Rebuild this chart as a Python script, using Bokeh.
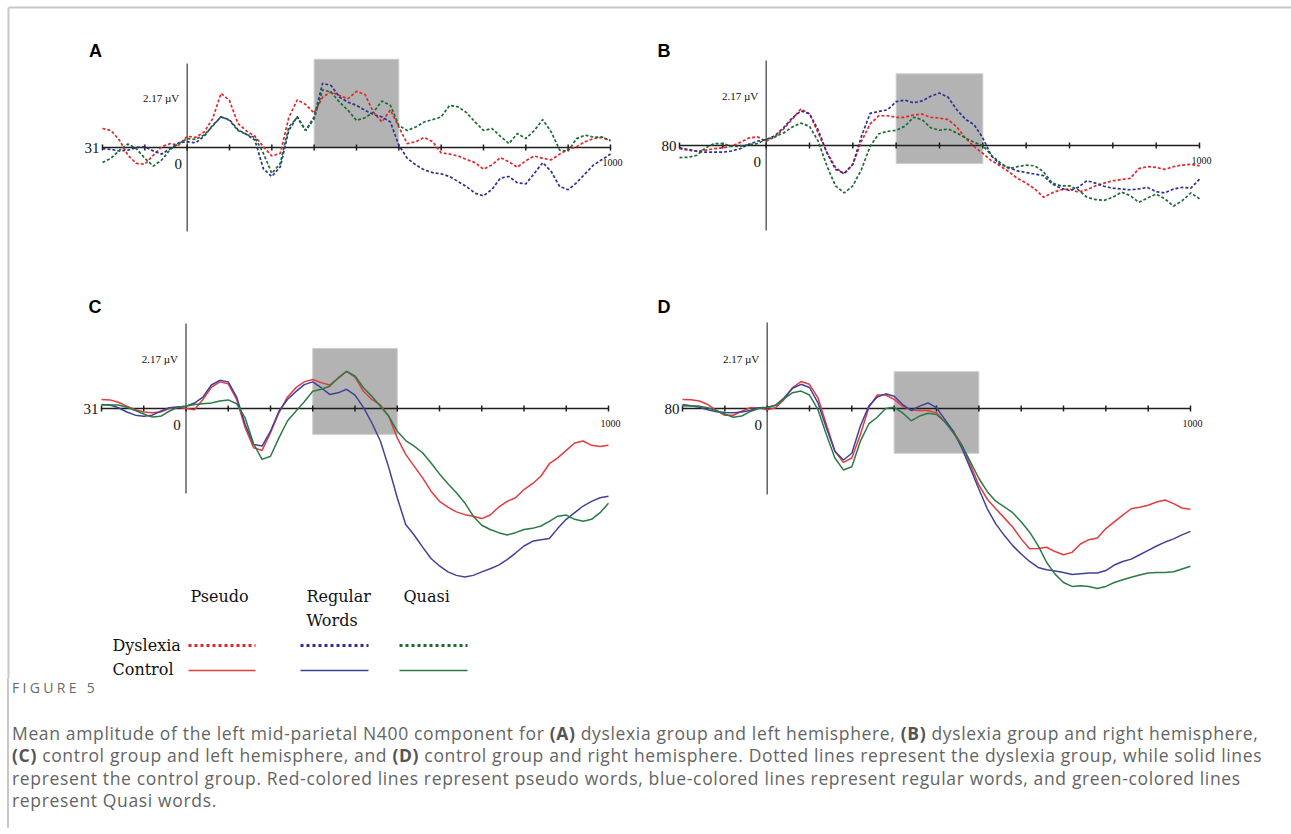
import numpy as np
from bokeh.plotting import figure
from bokeh.models import Range1d, Div
from bokeh.layouts import column
from bokeh.embed import file_html
from bokeh.resources import INLINE
from bokeh.core.properties import value

# ---------------- data ----------------
TIME_MS = list(range(-200, 1001, 20))
TICKS_MS = list(range(-200, 1001, 100))
WINDOW_MS = [300, 500]
AXIS_UV = 2.17
SCALE_LABEL = "2.17 µV"

PANELS = ["A", "B", "C", "D"]
BASE_LABELS = ["31", "80", "31", "80"]
WINDOW_BOTTOM_UV = [0.0, -0.46, -0.66, -1.13]
WINDOW_TOP_UV = [2.28, 1.83, 1.53, 0.93]

CONDITIONS = ["Pseudo", "Regular Words", "Quasi"]
GROUPS = ["Dyslexia", "Control"]

# Panel A: dyslexia, left hemisphere (µV)
A_pseudo = [0.49, 0.44, 0.19, -0.20, -0.41, -0.43, -0.20, 0.02, 0.10, 0.06,
            0.29, 0.26, 0.40, 0.74, 1.40, 1.21, 0.62, 0.43, 0.29, 0.02,
            -0.22, -0.15, 0.77, 1.23, 1.11, 0.89, 1.30, 1.44, 1.34, 1.26,
            1.45, 1.37, 0.91, 0.66, 0.97, 0.53, 0.10, 0.15, 0.26, 0.15,
            -0.14, -0.17, -0.22, -0.31, -0.39, -0.56, -0.45, -0.26, -0.37, -0.51,
            -0.34, -0.22, -0.28, -0.32, -0.17, -0.05, 0.02, 0.15, 0.23, 0.26, 0.19]
A_regular = [-0.03, -0.05, -0.09, -0.07, 0.00, 0.02, -0.09, -0.17, -0.03, 0.12,
             0.15, 0.12, 0.29, 0.57, 0.79, 0.72, 0.46, 0.34, 0.19, -0.55,
             -0.75, -0.50, 0.44, 0.80, 0.44, 0.79, 1.66, 1.60, 1.30, 1.17,
             1.09, 0.96, 0.85, 0.79, 0.66, 0.06, -0.28, -0.45, -0.58, -0.65,
             -0.68, -0.75, -0.88, -1.01, -1.18, -1.25, -1.08, -0.79, -0.75, -0.91,
             -0.94, -0.67, -0.39, -0.62, -1.01, -1.09, -0.91, -0.68, -0.45, -0.31, -0.17]
A_quasi = [-0.39, -0.28, -0.07, 0.09, -0.03, -0.28, -0.48, -0.32, -0.05, 0.10,
           0.23, 0.21, 0.32, 0.55, 0.80, 0.70, 0.44, 0.34, 0.26, -0.15,
           -0.67, -0.41, 0.53, 0.77, 0.44, 0.74, 1.49, 1.43, 1.17, 0.96,
           0.70, 0.77, 0.91, 1.20, 1.09, 0.57, 0.44, 0.53, 0.66, 0.72,
           0.79, 1.09, 1.05, 0.90, 0.66, 0.44, 0.49, 0.29, 0.10, 0.36,
           0.23, 0.44, 0.72, 0.40, -0.07, -0.09, 0.23, 0.32, 0.27, 0.27, 0.17]

# Panel B: dyslexia, right hemisphere (µV)
B_pseudo = [-0.08, -0.12, -0.14, -0.12, -0.08, -0.06, -0.02, 0.08, 0.19, 0.22,
            0.11, 0.22, 0.42, 0.67, 0.93, 0.81, 0.32, -0.17, -0.56, -0.73,
            -0.48, 0.11, 0.55, 0.76, 0.76, 0.72, 0.72, 0.78, 0.80, 0.72,
            0.70, 0.66, 0.47, 0.19, -0.03, -0.20, -0.39, -0.52, -0.67, -0.84,
            -0.96, -1.11, -1.32, -1.21, -1.13, -1.11, -1.19, -1.13, -1.03, -0.96,
            -0.90, -0.87, -0.84, -0.59, -0.54, -0.56, -0.61, -0.54, -0.50, -0.48, -0.52]
B_regular = [-0.06, -0.10, -0.15, -0.17, -0.17, -0.17, -0.14, -0.08, 0.03, 0.11,
             0.15, 0.25, 0.45, 0.70, 0.88, 0.81, 0.40, -0.18, -0.61, -0.71,
             -0.48, 0.24, 0.82, 0.87, 0.91, 1.12, 1.16, 1.09, 1.14, 1.26,
             1.34, 1.23, 0.91, 0.67, 0.53, 0.19, -0.27, -0.48, -0.56, -0.65,
             -0.69, -0.73, -0.77, -0.98, -1.09, -1.15, -1.07, -0.90, -0.96, -1.04,
             -1.09, -1.11, -1.13, -1.11, -1.07, -1.18, -1.21, -1.11, -1.07, -1.09, -0.86]
B_quasi = [-0.31, -0.30, -0.25, -0.06, 0.05, 0.05, -0.02, -0.02, 0.02, 0.05,
           0.15, 0.22, 0.32, 0.47, 0.57, 0.49, 0.11, -0.52, -1.03, -1.21,
           -1.03, -0.61, -0.02, 0.30, 0.36, 0.39, 0.49, 0.72, 0.66, 0.45,
           0.39, 0.42, 0.32, 0.19, 0.08, 0.00, -0.25, -0.44, -0.59, -0.54,
           -0.50, -0.52, -0.67, -0.96, -1.03, -1.03, -1.13, -1.32, -1.38, -1.40,
           -1.32, -1.19, -1.28, -1.45, -1.34, -1.24, -1.36, -1.55, -1.41, -1.21, -1.36]

# Panel C: control, left hemisphere (µV)
C_pseudo = [0.23, 0.22, 0.16, 0.06, -0.03, -0.09, -0.11, -0.09, 0.00, 0.03,
            0.00, -0.03, 0.23, 0.54, 0.68, 0.63, 0.23, -0.49, -1.00, -1.07,
            -0.62, -0.11, 0.29, 0.53, 0.68, 0.74, 0.66, 0.60, 0.77, 0.95,
            0.80, 0.44, 0.23, 0.09, -0.20, -0.75, -1.17, -1.47, -1.77, -2.11,
            -2.37, -2.52, -2.64, -2.71, -2.75, -2.81, -2.72, -2.52, -2.37, -2.28,
            -2.07, -1.92, -1.73, -1.41, -1.26, -1.07, -0.88, -0.83, -0.94, -0.97, -0.94]
C_regular = [0.10, 0.09, 0.02, -0.09, -0.17, -0.20, -0.17, -0.07, 0.02, 0.04,
             0.06, 0.14, 0.29, 0.60, 0.72, 0.68, 0.29, -0.41, -0.92, -0.96,
             -0.58, -0.07, 0.23, 0.43, 0.61, 0.68, 0.53, 0.36, 0.40, 0.49,
             0.34, 0.03, -0.37, -0.83, -1.51, -2.28, -2.96, -3.23, -3.54, -3.83,
             -4.02, -4.17, -4.26, -4.30, -4.26, -4.17, -4.09, -4.00, -3.86, -3.69,
             -3.51, -3.39, -3.35, -3.32, -3.06, -2.83, -2.66, -2.49, -2.37, -2.28, -2.24]
C_quasi = [0.09, 0.09, 0.09, 0.03, -0.05, -0.14, -0.22, -0.20, -0.07, 0.03,
           0.06, 0.10, 0.12, 0.14, 0.19, 0.22, 0.12, -0.24, -0.90, -1.30,
           -1.22, -0.75, -0.32, -0.07, 0.17, 0.44, 0.49, 0.57, 0.78, 0.95,
           0.83, 0.53, 0.31, 0.06, -0.20, -0.58, -0.82, -0.96, -1.13, -1.39,
           -1.67, -1.92, -2.15, -2.41, -2.75, -2.98, -3.09, -3.17, -3.23, -3.17,
           -3.09, -3.06, -3.00, -2.88, -2.75, -2.72, -2.83, -2.88, -2.83, -2.66, -2.42]

# Panel D: control, right hemisphere (µV)
D_pseudo = [0.23, 0.22, 0.19, 0.10, -0.05, -0.17, -0.17, -0.07, 0.02, 0.02,
            -0.03, 0.02, 0.23, 0.53, 0.68, 0.61, 0.27, -0.41, -1.08, -1.36,
            -1.25, -0.66, 0.02, 0.34, 0.34, 0.23, 0.06, -0.04, -0.05, -0.05,
            -0.11, -0.34, -0.58, -0.92, -1.42, -1.93, -2.29, -2.53, -2.76, -2.99,
            -3.29, -3.54, -3.53, -3.50, -3.61, -3.69, -3.63, -3.42, -3.31, -3.27,
            -3.03, -2.86, -2.69, -2.53, -2.49, -2.44, -2.36, -2.31, -2.40, -2.51, -2.54]
D_regular = [0.10, 0.07, 0.03, -0.03, -0.08, -0.10, -0.11, -0.09, -0.05, 0.02,
             0.03, 0.08, 0.27, 0.51, 0.61, 0.53, 0.14, -0.49, -1.08, -1.30,
             -1.13, -0.45, 0.06, 0.29, 0.37, 0.31, 0.10, -0.05, 0.06, 0.14,
             0.02, -0.28, -0.58, -1.00, -1.51, -2.03, -2.53, -2.91, -3.20, -3.46,
             -3.67, -3.86, -4.01, -4.07, -4.10, -4.14, -4.19, -4.17, -4.15, -4.15,
             -4.09, -3.95, -3.86, -3.80, -3.69, -3.58, -3.47, -3.37, -3.29, -3.19, -3.10]
D_quasi = [0.06, 0.06, 0.06, 0.02, -0.05, -0.14, -0.22, -0.19, -0.08, 0.00,
           0.02, 0.08, 0.25, 0.40, 0.44, 0.34, -0.03, -0.66, -1.25, -1.55,
           -1.47, -0.83, -0.39, -0.22, 0.00, 0.03, -0.11, -0.31, -0.19, -0.12,
           -0.15, -0.34, -0.62, -0.93, -1.34, -1.76, -2.10, -2.34, -2.48, -2.63,
           -2.86, -3.12, -3.46, -3.88, -4.18, -4.39, -4.49, -4.47, -4.49, -4.54,
           -4.49, -4.39, -4.32, -4.26, -4.20, -4.15, -4.14, -4.14, -4.12, -4.05, -3.98]

SERIES = {
    "A": [A_pseudo, A_regular, A_quasi],
    "B": [B_pseudo, B_regular, B_quasi],
    "C": [C_pseudo, C_regular, C_quasi],
    "D": [D_pseudo, D_regular, D_quasi],
}
PANEL_GROUP = {"A": "Dyslexia", "B": "Dyslexia", "C": "Control", "D": "Control"}

# ---------------- styling / layout (page pixels) ----------------
W, H_FIG, H_CAP = 1291, 678, 150

PANEL_BOX = {
    "A": dict(x0=102, x1=610, base=147, half=84, lab=(95, 50)),
    "B": dict(x0=679, x1=1199, base=145, half=85, lab=(663.5, 50)),
    "C": dict(x0=101, x1=608, base=408, half=85, lab=(94.5, 306)),
    "D": dict(x0=682, x1=1190, base=408, half=86, lab=(663.5, 306)),
}

DOT_COLORS = ["#e4252b", "#2e3192", "#1b6b35"]
SOLID_COLORS = ["#e23c40", "#414199", "#2c7a46"]
SERIF = value("Liberation Serif")
LEG_FONT = value("DejaVu Serif")

p = figure(width=W, height=H_FIG,
           x_range=Range1d(0, W), y_range=Range1d(H_FIG, 0),
           output_backend="svg", toolbar_location=None,
           x_axis_location=None, y_axis_location=None,
           min_border=0, outline_line_color=None,
           background_fill_color="white", border_fill_color="white")
p.xgrid.visible = False
p.ygrid.visible = False

# page frame lines (left / top)
p.segment(x0=[8, 8], y0=[7, 7], x1=[8, W], y1=[H_FIG, 7],
          line_color="#c8c8c8", line_width=2)

for i, name in enumerate(PANELS):
    box = PANEL_BOX[name]
    xy = p.subplot(
        x_source=Range1d(TICKS_MS[0], TICKS_MS[-1]),
        y_source=Range1d(-AXIS_UV, AXIS_UV),
        x_target=Range1d(box["x0"], box["x1"]),
        y_target=Range1d(box["base"] + box["half"], box["base"] - box["half"]),
    )
    # analysis window
    xy.quad(left=[WINDOW_MS[0]], right=[WINDOW_MS[1]],
            bottom=[WINDOW_BOTTOM_UV[i]], top=[WINDOW_TOP_UV[i]],
            fill_color="#b3b3b3", line_color="#cdcdcd", line_width=1)
    # axes
    xy.segment(x0=[0], y0=[-AXIS_UV], x1=[0], y1=[AXIS_UV],
               line_color="#3a3a3a", line_width=1.2)
    xy.segment(x0=[TICKS_MS[0]], y0=[0], x1=[TICKS_MS[-1]], y1=[0],
               line_color="#1e1e1e", line_width=1.6)
    xy.scatter(x=TICKS_MS, y=[0] * len(TICKS_MS), marker="dash",
               angle=np.pi / 2, size=6, line_color="#1e1e1e", line_width=1.5)
    # axis texts
    xy.text(x=[TICKS_MS[0]], y=[0], text=[BASE_LABELS[i]], x_offset=-3,
            text_align="right", text_baseline="middle", text_font=SERIF,
            text_font_size="15px", text_color="#111111")
    xy.text(x=[0], y=[0], text=["0"], x_offset=-9, y_offset=16,
            text_align="center", text_baseline="middle", text_font=SERIF,
            text_font_size="15px", text_color="#111111")
    xy.text(x=[TICKS_MS[-1]], y=[0], text=["1000"], x_offset=2, y_offset=15,
            text_align="center", text_baseline="middle", text_font=SERIF,
            text_font_size="10px", text_color="#111111")
    xy.text(x=[0], y=[0], text=[SCALE_LABEL], x_offset=-8, y_offset=-50,
            text_align="right", text_baseline="middle", text_font=SERIF,
            text_font_size="11px", text_color="#111111")
    # waveforms
    dotted = PANEL_GROUP[name] == "Dyslexia"
    for k, ys in enumerate(SERIES[name]):
        if dotted:
            xy.line(x=TIME_MS, y=ys, line_color=DOT_COLORS[k], line_width=1.7,
                    line_dash="3 2")
        else:
            xy.line(x=TIME_MS, y=ys, line_color=SOLID_COLORS[k], line_width=1.5)
    # panel letter
    p.text(x=[box["lab"][0]], y=[box["lab"][1]], text=[name],
           text_align="center", text_baseline="middle",
           text_font=value("Liberation Sans"), text_font_style="bold",
           text_font_size="18px", text_color="#000000")

# ---------------- legend ----------------
LEG_COL_X = [190, 306, 403]
LEG_HEAD_Y = 586
LEG_ROW_Y = [645, 669]
LEG_ROW_LABEL_X = 112
LEG_LINE_X = [(188, 255), (300, 368), (399, 467)]

p.text(x=LEG_COL_X, y=[LEG_HEAD_Y] * 3, text=[c.replace(" ", "\n") for c in CONDITIONS],
       text_align="left", text_baseline="top", text_line_height=1.3,
       text_font=LEG_FONT, text_font_size="16px", text_color="#111111")
p.text(x=[LEG_ROW_LABEL_X] * 2, y=LEG_ROW_Y, text=GROUPS,
       text_align="left", text_baseline="middle",
       text_font=LEG_FONT, text_font_size="16px", text_color="#111111")
for k in range(3):
    x0, x1 = LEG_LINE_X[k]
    p.line(x=[x0, x1], y=[LEG_ROW_Y[0]] * 2, line_color=DOT_COLORS[k],
           line_width=3, line_dash="3 3")
    p.line(x=[x0, x1], y=[LEG_ROW_Y[1] + 1] * 2, line_color=SOLID_COLORS[k],
           line_width=1.5)

# ---------------- caption ----------------
caption_html = (
    "<div style=\"margin-left:7px; border-left:2px solid #c8c8c8; height:%dpx; padding-left:3px; "
    "font-family:'Open Sans', sans-serif; color:#646464; box-sizing:border-box;\">"
    "<div style=\"font-size:14px; line-height:20px; letter-spacing:3.3px; color:#6a6a6a;\">FIGURE 5</div>"
    "<div style=\"margin-top:24px; font-size:17.5px; letter-spacing:0.65px; line-height:22.3px; white-space:nowrap;\">"
    "Mean amplitude of the left mid-parietal N400 component for <b style=\"color:#555555\">(A)</b> dyslexia group and left hemisphere, "
    "<b style=\"color:#555555\">(B)</b> dyslexia group and right hemisphere,<br>"
    "<b style=\"color:#555555\">(C)</b> control group and left hemisphere, and <b style=\"color:#555555\">(D)</b> control group and right hemisphere. "
    "Dotted lines represent the dyslexia group, while solid lines<br>"
    "represent the control group. Red-colored lines represent pseudo words, blue-colored lines represent "
    "regular words, and green-colored lines<br>"
    "represent Quasi words.</div></div>" % H_CAP
)
cap = Div(text=caption_html, width=W, height=H_CAP, margin=(0, 0, 0, 0))

layout = column(p, cap, spacing=0)
open("out.html", "w").write(file_html(layout, INLINE))
